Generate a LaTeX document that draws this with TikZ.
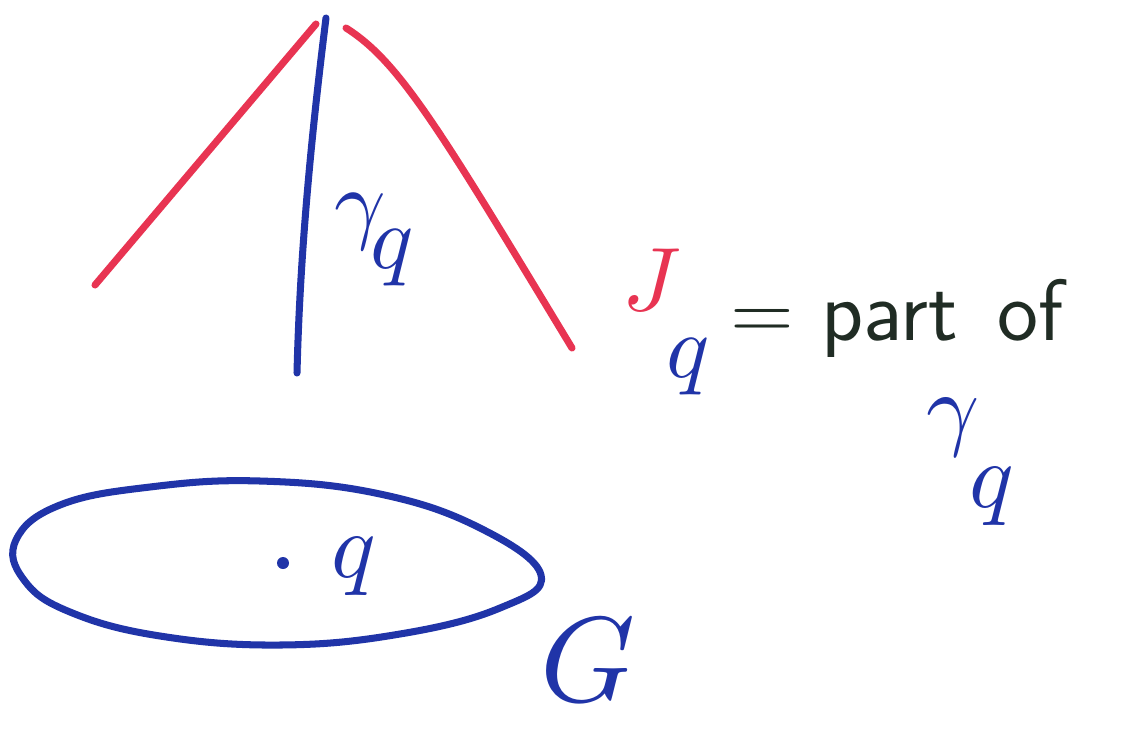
\documentclass[tikz,border=0pt]{standalone}
\usepackage{graphicx}
\usepackage{tikz}
\usetikzlibrary{positioning}
\definecolor{penred}{RGB}{232,52,82}
\definecolor{penblue}{RGB}{32,52,168}
\definecolor{pendark}{RGB}{32,44,36}
\newcommand{\penlabel}[2]{\scalebox{#1}{$#2$}}
% subscript written as big as its base, lowered by #1
\newcommand{\lowsub}[2]{\raisebox{-#1}{$#2$}}

\begin{document}
\begin{tikzpicture}[
    x=0.025cm, y=-0.025cm,
    % one style per pen colour
    redpen/.style  = {draw=penred, line width=5pt, line cap=round},
    bluepen/.style = {draw=penblue, line width=5pt, line cap=round, line join=round},
    label/.style   = {inner sep=0pt},
  ]
  \useasboundingbox[fill=white] (0,0) rectangle (1136,731);

  %% ---------- the cone over q ----------
  \draw[redpen] (95,285) -- (316,24);
  \draw[redpen] (346,28) .. controls (400,62) and (440,130) .. (572,348);
  \draw[bluepen] (326,18) .. controls (312,130) and (300,250) .. (297,373);

  \node[label, text=penblue] (gamma) at (374,240) {\penlabel{6.4}{\gamma\mkern-3mu\lowsub{0.4em}{q}}};

  %% ---------- the label on the right ----------
  \node[label] (J) at (666,322) {\penlabel{6.4}{\textcolor{penred}{J}\mkern-3mu\lowsub{0.75em}{\textcolor{penblue}{q}}}};
  \node[label, text=pendark, font=\fontsize{62}{62}\selectfont\sffamily, anchor=base west]
    (part) at (730,340) {= part\hspace{0.45em}of};
  \node[label, text=penblue] (gammaB) at (970,462) {\penlabel{6.6}{\gamma\mkern-2mu\lowsub{0.75em}{q}}};

  %% ---------- the region G ----------
  \draw[bluepen] plot[smooth cycle, tension=0.7] coordinates {
    (16,540) (60,505) (150,487) (260,481) (380,494) (480,528) (541,575)
    (500,608) (400,634) (280,645) (160,636) (70,612) (24,580)
  };
  \fill[penblue] (283,563) circle (6);
  \node[label, text=penblue] (q) at (354,567) {\penlabel{6.6}{q}};
  \node[label, text=penblue] (G) at (588,660) {\penlabel{8.6}{G}};
\end{tikzpicture}
\end{document}
